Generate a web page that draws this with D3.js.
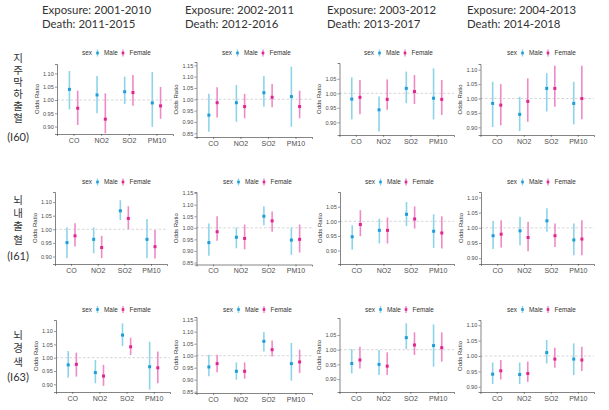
<!DOCTYPE html>
<html><head><meta charset="utf-8">
<script src="https://cdn.jsdelivr.net/npm/d3@7"></script>
<style>body{margin:0;background:#fff}svg{display:block}</style>
</head><body>
<svg id="chart" width="609" height="410"></svg>
<script>
// ---------------- data ----------------
const pollutants = ["CO", "NO2", "SO2", "PM10"];
const sexes = ["Male", "Female"];
const exposureLabels = ["Exposure: 2001-2010", "Exposure: 2002-2011", "Exposure: 2003-2012", "Exposure: 2004-2013"];
const deathLabels = ["Death: 2011-2015", "Death: 2012-2016", "Death: 2013-2017", "Death: 2014-2018"];
const outcomeNames = ["지주막하출혈", "뇌내출혈", "뇌경색"];
const outcomeCodes = ["(I60)", "(I61)", "(I63)"];
const columnTicks = [
  [0.90, 0.95, 1.00, 1.05, 1.10],
  [0.85, 0.90, 0.95, 1.00, 1.05, 1.10, 1.15],
  [0.90, 0.95, 1.00, 1.05],
  [0.90, 0.95, 1.00, 1.05, 1.10]
];
// panels in row order: I60 x 4 periods, I61 x 4, I63 x 4 ; values for CO, NO2, SO2, PM10
const maleOR = [
  [1.040, 1.019, 1.031, 0.989], [0.930, 0.985, 1.029, 1.012], [0.980, 0.943, 1.017, 0.983], [0.983, 0.945, 1.035, 0.983],
  [0.951, 0.963, 1.068, 0.963], [0.936, 0.959, 1.050, 0.947], [0.947, 0.969, 1.024, 0.966], [0.974, 0.990, 1.023, 0.960],
  [0.973, 0.944, 1.085, 0.966], [0.953, 0.935, 1.060, 0.967], [0.953, 0.950, 1.041, 1.014], [0.941, 0.940, 1.011, 0.990]
];
const maleLo = [
  [0.965, 0.950, 0.985, 0.899], [0.857, 0.901, 0.968, 0.879], [0.910, 0.868, 0.966, 0.910], [0.901, 0.887, 0.955, 0.910],
  [0.894, 0.912, 1.034, 0.894], [0.879, 0.911, 1.011, 0.883], [0.903, 0.924, 0.984, 0.909], [0.930, 0.943, 0.987, 0.910],
  [0.925, 0.904, 1.044, 0.880], [0.914, 0.900, 1.018, 0.896], [0.919, 0.914, 1.002, 0.942], [0.909, 0.909, 0.976, 0.938]
];
const maleHi = [
  [1.109, 1.090, 1.088, 1.105], [1.024, 1.063, 1.103, 1.144], [1.055, 0.989, 1.075, 1.086], [1.058, 1.006, 1.088, 1.058],
  [1.007, 1.007, 1.107, 1.038], [1.019, 1.001, 1.093, 1.001], [0.986, 1.009, 1.066, 1.024], [1.022, 1.036, 1.064, 1.014],
  [1.025, 0.991, 1.129, 1.060], [1.004, 0.972, 1.099, 1.053], [1.002, 0.999, 1.090, 1.086], [0.979, 0.979, 1.052, 1.041]
];
const femaleOR = [
  [0.969, 0.928, 1.028, 0.978], [0.985, 0.968, 1.009, 0.968], [0.986, 0.979, 1.006, 0.979], [0.977, 0.990, 1.035, 1.000],
  [0.976, 0.933, 1.040, 0.936], [0.983, 0.954, 1.030, 0.950], [0.989, 0.969, 1.008, 0.960], [0.979, 0.968, 0.974, 0.963],
  [0.975, 0.931, 1.041, 0.962], [0.967, 0.935, 1.025, 0.974], [0.965, 0.944, 1.016, 1.007], [0.952, 0.943, 0.990, 0.987]
];
const femaleLo = [
  [0.906, 0.875, 0.978, 0.929], [0.920, 0.916, 0.965, 0.916], [0.928, 0.943, 0.963, 0.925], [0.907, 0.919, 0.971, 0.928],
  [0.937, 0.894, 1.000, 0.893], [0.944, 0.907, 0.983, 0.893], [0.949, 0.924, 0.975, 0.907], [0.935, 0.923, 0.937, 0.910],
  [0.929, 0.894, 1.010, 0.904], [0.931, 0.904, 0.997, 0.928], [0.936, 0.914, 0.982, 0.959], [0.924, 0.916, 0.962, 0.951]
];
const femaleHi = [
  [1.035, 1.025, 1.094, 1.049], [1.053, 1.024, 1.068, 1.038], [1.046, 1.048, 1.063, 1.046], [1.050, 1.070, 1.114, 1.114],
  [1.022, 0.976, 1.085, 0.997], [1.050, 1.014, 1.071, 1.014], [1.038, 1.013, 1.051, 1.017], [1.025, 1.020, 1.014, 1.025],
  [1.019, 0.973, 1.075, 1.023], [1.004, 0.972, 1.063, 1.025], [1.010, 0.991, 1.059, 1.059], [0.987, 0.982, 1.027, 1.030]
];

// ---------------- layout (pixels) ----------------
const panelLayout = [
  {left: 57,  right: 173, top: 64,  bottom: 134, y1: 100.0, ppu: 13.3, lx: 82,  ly: 53},
  {left: 196.5, right: 312, top: 62, bottom: 137, y1: 99.3, ppu: 11.33, lx: 222, ly: 53},
  {left: 339.5, right: 454, top: 63, bottom: 135, y1: 93.3, ppu: 14.5, lx: 364, ly: 53},
  {left: 480.5, right: 594, top: 64, bottom: 135, y1: 98.5, ppu: 14.4, lx: 507, ly: 53},
  {left: 55,  right: 167, top: 192, bottom: 264, y1: 229.3, ppu: 13.6, lx: 82,  ly: 182},
  {left: 196.5, right: 312, top: 192, bottom: 264.5, y1: 227.8, ppu: 11.55, lx: 223, ly: 182},
  {left: 340, right: 454, top: 192, bottom: 264, y1: 221.3, ppu: 14.6, lx: 365, ly: 182},
  {left: 481, right: 594, top: 192, bottom: 264, y1: 227.8, ppu: 15.2, lx: 507, ly: 182},
  {left: 56,  right: 170, top: 320, bottom: 392, y1: 357.7, ppu: 13.3, lx: 82,  ly: 309.5},
  {left: 196.5, right: 312, top: 317, bottom: 393, y1: 355.7, ppu: 12.0, lx: 223, ly: 309.5},
  {left: 339.5, right: 454, top: 318, bottom: 392, y1: 349.7, ppu: 14.7, lx: 365, ly: 309.5},
  {left: 480.5, right: 594, top: 320, bottom: 392, y1: 356.0, ppu: 15.4, lx: 507, ly: 309.5}
];
const titleX = [42, 185, 327, 467];
// first glyph centre, glyph pitch, code label centre
const rowLabelLayout = [
  {y0: 58, pitch: 12, code: 137},
  {y0: 200, pitch: 13.2, code: 256.5},
  {y0: 335, pitch: 13.3, code: 377}
];

const colors = {
  Male:   {line: "#8dd4ea", point: "#1e9dd8"},
  Female: {line: "#ee8ac6", point: "#e0268e"}
};
const axisFont = "'Liberation Sans', Arial, sans-serif";

const svg = d3.select("#chart");
svg.append("rect").attr("width", 609).attr("height", 410).attr("fill", "#fff");

// column titles
titleX.forEach((tx, c) => {
  [exposureLabels[c], deathLabels[c]].forEach((t, k) => {
    svg.append("text").attr("x", tx).attr("y", 14 + k * 14).text(t)
      .attr("font-family", "Lato, 'Open Sans', sans-serif").attr("font-size", 11.4)
      .attr("font-weight", 400).attr("fill", "#333");
  });
});

// row labels (vertical Hangul)
outcomeNames.forEach((name, r) => {
  const R = rowLabelLayout[r];
  const fs = 10.5;
  svg.append("text").attr("x", 18).attr("y", R.y0 - fs / 2)
    .style("writing-mode", "vertical-rl").style("text-orientation", "upright")
    .style("letter-spacing", (R.pitch - fs) + "px")
    .attr("font-family", "'Noto Sans CJK KR', sans-serif").attr("font-size", fs).attr("fill", "#333")
    .text(name);
  svg.append("text").attr("x", 18).attr("y", R.code + 3.8).attr("text-anchor", "middle")
    .attr("font-family", "Lato, 'Open Sans', sans-serif").attr("font-size", 11).attr("fill", "#333")
    .text(outcomeCodes[r]);
});

const sexData = {
  Male: {or: maleOR, lo: maleLo, hi: maleHi},
  Female: {or: femaleOR, lo: femaleLo, hi: femaleHi}
};

panelLayout.forEach((L, p) => {
  const col = p % 4;
  const g = svg.append("g");
  const yMin = 1 - (L.bottom - L.y1) / L.ppu * 0.05;
  const yMax = 1 + (L.y1 - L.top) / L.ppu * 0.05;
  const y = d3.scaleLinear().domain([yMin, yMax]).range([L.bottom, L.top]);
  const x = d3.scalePoint().domain(pollutants).range([L.left, L.right]).padding(0.6);
  const dodge = d3.scalePoint().domain(sexes).range([-0.15, 0.15]).padding(0);
  const step = x.step();

  g.append("line").attr("x1", L.left).attr("x2", L.right).attr("y1", y(1)).attr("y2", y(1))
    .attr("stroke", "#b8b8b8").attr("stroke-width", 0.6).attr("stroke-dasharray", "2.5,2");

  const yAxis = g.append("g").attr("transform", `translate(${L.left},0)`)
    .call(d3.axisLeft(y).tickValues(columnTicks[col]).tickFormat(d3.format(".2f")).tickSize(2).tickPadding(1.2));
  const xAxis = g.append("g").attr("transform", `translate(0,${L.bottom})`)
    .call(d3.axisBottom(x).tickSize(2).tickPadding(2));
  [yAxis, xAxis].forEach(a => {
    a.select(".domain").attr("stroke", "#333").attr("stroke-width", 0.6);
    a.selectAll(".tick line").attr("stroke", "#333").attr("stroke-width", 0.5);
    a.selectAll("text").attr("font-family", axisFont).attr("fill", "#4d4d4d");
  });
  yAxis.selectAll("text").attr("font-size", 5.6);
  xAxis.selectAll("text").attr("font-size", 7);

  g.append("text").attr("transform", `translate(${L.left - 18.5},${(L.top + L.bottom) / 2}) rotate(-90)`)
    .attr("text-anchor", "middle")
    .attr("font-family", axisFont).attr("font-size", 6).attr("fill", "#333")
    .text("Odds Ratio");

  sexes.forEach(s => {
    const d = sexData[s];
    pollutants.forEach((pol, i) => {
      const cx = x(pol) + dodge(s) * step;
      g.append("line").attr("x1", cx).attr("x2", cx)
        .attr("y1", y(d.lo[p][i])).attr("y2", y(d.hi[p][i]))
        .attr("stroke", colors[s].line).attr("stroke-width", 1.6);
      g.append("rect").attr("x", cx - 1.5).attr("y", y(d.or[p][i]) - 1.5)
        .attr("width", 3).attr("height", 3).attr("fill", colors[s].point);
    });
  });

  const lg = g.append("g").attr("transform", `translate(${L.lx},${L.ly + 2.2})`)
    .attr("font-family", axisFont).attr("font-size", 6.4).attr("fill", "#333");
  lg.append("text").attr("x", 0).attr("y", 0).text("sex");
  const items = [{s: "Male", gx: 15.5, tx: 22}, {s: "Female", gx: 41, tx: 47.5}];
  items.forEach(it => {
    lg.append("line").attr("x1", it.gx).attr("x2", it.gx).attr("y1", -5.7).attr("y2", 1.3)
      .attr("stroke", colors[it.s].line).attr("stroke-width", 1.4);
    lg.append("rect").attr("x", it.gx - 1.3).attr("y", -3.5).attr("width", 2.6).attr("height", 2.6)
      .attr("fill", colors[it.s].point);
    lg.append("text").attr("x", it.tx).attr("y", 0).text(it.s);
  });
});
</script>
</body></html>
